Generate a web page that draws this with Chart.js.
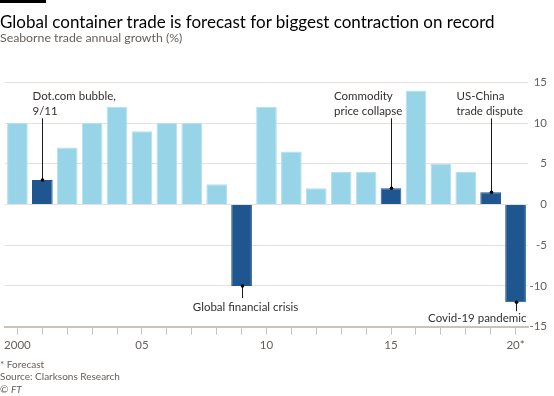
<!DOCTYPE html>
<html>
<head>
<meta charset="utf-8">
<script src="https://cdn.jsdelivr.net/npm/chart.js@4.4.1/dist/chart.umd.min.js"></script>
<style>
  html, body { margin: 0; padding: 0; background: #ffffff; }
  body { width: 554px; height: 396px; position: relative; overflow: hidden; font-family: Lato, "Liberation Sans", sans-serif; }
  #wrap { position: absolute; left: 0; top: 0; width: 554px; height: 396px; }
  .t { position: absolute; left: 0; white-space: nowrap; line-height: 1; }
  #bar { position: absolute; left: 0; top: 0; width: 46px; height: 3px; background: #000; }
  #title { top: 12.5px; font-size: 17px; color: #000000; }
  #sub { top: 31.5px; font-size: 12.3px; color: #66605c; }
  .foot { font-size: 10px; color: #66605c; }
</style>
</head>
<body>
<div id="wrap"><canvas id="c" width="554" height="396"></canvas></div>
<div id="bar"></div>
<div class="t" id="title">Global container trade is forecast for biggest contraction on record</div>
<div class="t" id="sub">Seaborne trade annual growth (%)</div>
<div class="t foot" style="top:359px">* Forecast</div>
<div class="t foot" style="top:370.5px">Source: Clarksons Research</div>
<div class="t foot" style="top:384px">© <i>FT</i></div>
<script>
// ---- data ----
const years = ['2000','2001','2002','2003','2004','2005','2006','2007','2008','2009','2010',
               '2011','2012','2013','2014','2015','2016','2017','2018','2019','2020'];
const growth = [10, 3, 7, 10, 12, 9, 10, 10, 2.5, -10, 12, 6.5, 2, 4, 4, 2, 14, 5, 4, 1.5, -12];
const eventYears = ['2001','2009','2015','2019','2020'];
const xTickLabels = ['2000','','','','','05','','','','','10','','','','','15','','','','','20*'];
const yTicks = [-15, -10, -5, 0, 5, 10, 15];
const eventLabels = [
  { year: '2001', lines: ['Dot.com bubble,', '9/11'] },
  { year: '2009', lines: ['Global financial crisis'] },
  { year: '2015', lines: ['Commodity', 'price collapse'] },
  { year: '2019', lines: ['US-China', 'trade dispute'] },
  { year: '2020', lines: ['Covid-19 pandemic'] }
];

// ---- styles / layout ----
const LIGHT = '#98d4e8';
const LIGHT_EDGE = '#b3e1f0';
const DARK = '#1f5690';
const GRID = '#e8e0da';
const AXIS = '#cbc2bb';
const TXT = '#33302e';
const MUTED = '#66605c';
const FONT = 'Lato, "Liberation Sans", sans-serif';

// per-label placement (pixels relative to the bar / chart area)
const labelLayout = {
  '2001': { dx: -10, align: 'left' },
  '2015': { dx: -57.5, align: 'left' },
  '2019': { dx: -35, align: 'left' },
  '2009': { dx: 3, align: 'center', lineLen: 12, base: 25 },
  '2020': { dx: 10, align: 'right', lineLen: 9, base: 19.5 }
};

const annotationPlugin = {
  id: 'eventAnnotations',
  afterDatasetsDraw(chart) {
    const ctx = chart.ctx;
    const xs = chart.scales.x, ys = chart.scales.y;
    const top = chart.chartArea.top;
    ctx.save();
    ctx.font = '11.5px ' + FONT;
    ctx.fillStyle = TXT;
    ctx.strokeStyle = '#1a1a1a';
    ctx.lineWidth = 1;
    eventLabels.forEach(ev => {
      const i = years.indexOf(ev.year);
      const v = growth[i];
      const x = Math.round(xs.getPixelForValue(i)) + 0.5;
      const yEnd = ys.getPixelForValue(v);
      const L = labelLayout[ev.year];
      ctx.textAlign = L.align;
      ctx.textBaseline = 'alphabetic';
      if (v >= 0) {
        const y1 = top + 36;
        ctx.beginPath(); ctx.moveTo(x, y1); ctx.lineTo(x, yEnd); ctx.stroke();
        ev.lines.forEach((s, k) => ctx.fillText(s, x + L.dx, top + 17.5 + k * 14.8));
      } else {
        ctx.beginPath(); ctx.moveTo(x, yEnd); ctx.lineTo(x, yEnd + L.lineLen); ctx.stroke();
        ev.lines.forEach((s, k) => ctx.fillText(s, x + L.dx, yEnd + L.base + k * 14.8));
      }
      ctx.fillStyle = '#000';
      ctx.beginPath(); ctx.arc(x, yEnd, 1.8, 0, Math.PI * 2); ctx.fill();
      ctx.fillStyle = TXT;
    });
    ctx.restore();
  }
};

const isEvent = years.map(y => eventYears.includes(y));

new Chart(document.getElementById('c'), {
  type: 'bar',
  data: {
    labels: years,
    datasets: [{
      data: growth,
      backgroundColor: isEvent.map(e => e ? DARK : LIGHT),
      borderColor: isEvent.map(e => e ? DARK : LIGHT_EDGE),
      borderWidth: 1,
      barPercentage: 0.83,
      categoryPercentage: 1
    }]
  },
  options: {
    responsive: false,
    animation: false,
    devicePixelRatio: 1,
    layout: { padding: { left: 3, right: 7, top: 82.3, bottom: 39.3 } },
    plugins: { legend: { display: false }, tooltip: { enabled: false }, title: { display: false } },
    scales: {
      x: {
        offset: true,
        grid: { display: true, drawOnChartArea: false, drawTicks: true, tickLength: 8, color: AXIS, offset: false },
        border: { display: true, color: AXIS, width: 2 },
        ticks: {
          autoSkip: false, maxRotation: 0, minRotation: 0, padding: 4,
          color: MUTED, font: { family: FONT, size: 11.5 },
          callback: (val, i) => xTickLabels[i]
        },
        afterFit: s => { s.height = 30; }
      },
      y: {
        position: 'right',
        min: -15, max: 15,
        afterBuildTicks: s => { s.ticks = yTicks.map(v => ({ value: v })); },
        grid: { color: GRID, lineWidth: 1, drawTicks: false },
        border: { display: false },
        ticks: { crossAlign: 'far', padding: 2, color: MUTED, font: { family: FONT, size: 11.5 } },
        afterFit: s => { s.width = 19; }
      }
    }
  },
  plugins: [annotationPlugin]
});
</script>
</body>
</html>
